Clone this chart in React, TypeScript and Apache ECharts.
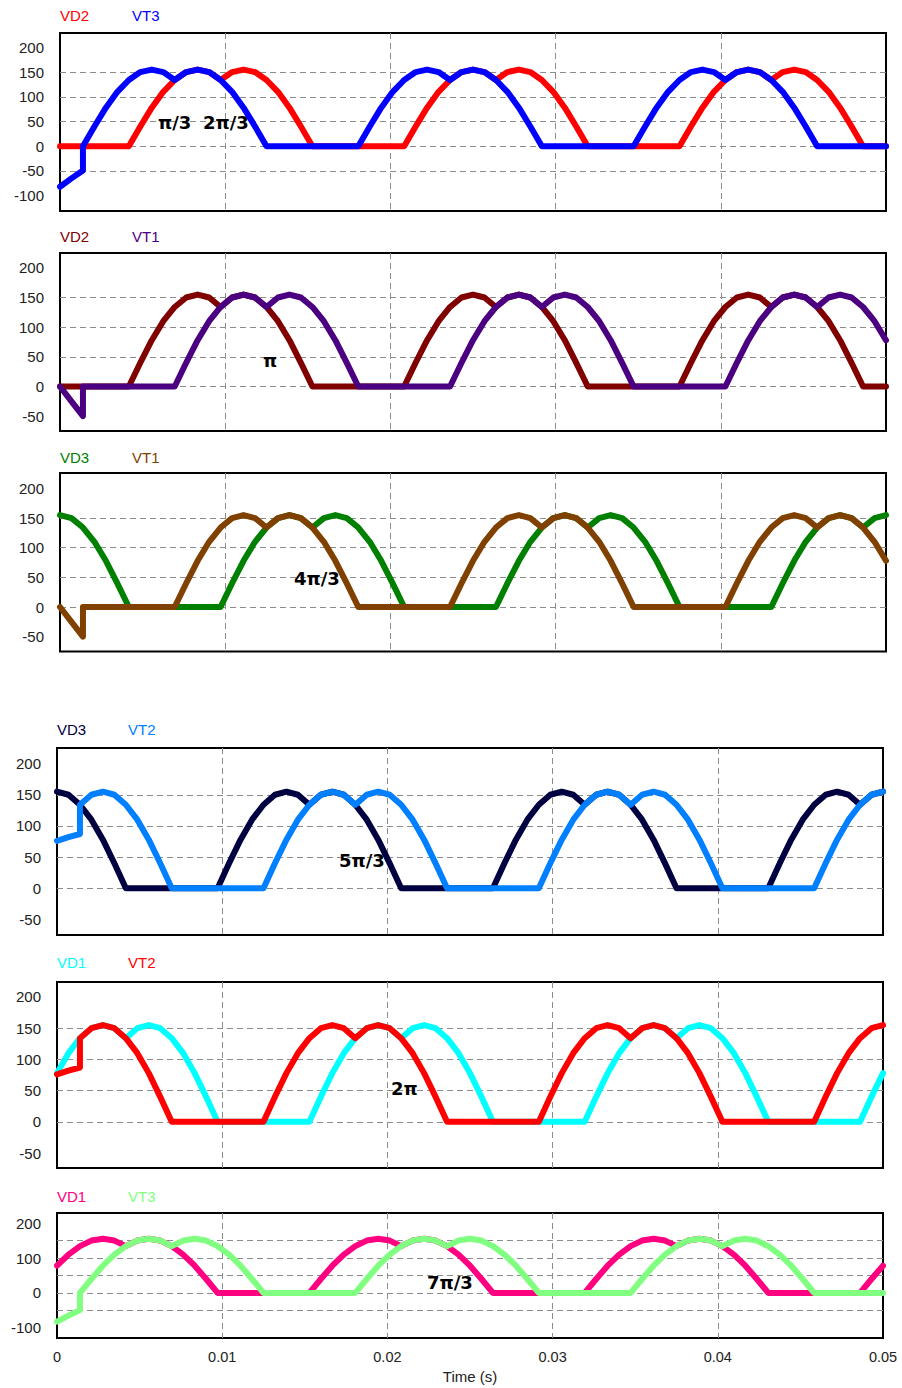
import { useEffect, useRef } from "react";
import * as echarts from "echarts";

// Time grid (ms): 15° steps of a 60 Hz supply, with the switching instant at 1.389 ms listed twice
const timeMs = [
  0, 0.694, 1.389, 1.389, 2.083, 2.778, 3.472, 4.167, 4.861, 5.556, 6.25, 6.944, 7.639, 8.333, 9.028, 9.722, 10.417, 11.111, 11.806, 12.5, 13.194, 13.889, 14.583, 15.278, 15.972,
  16.667, 17.361, 18.056, 18.75, 19.444, 20.139, 20.833, 21.528, 22.222, 22.917, 23.611, 24.306, 25, 25.694, 26.389, 27.083, 27.778, 28.472, 29.167, 29.861, 30.556, 31.25, 31.944, 32.639,
  33.333, 34.028, 34.722, 35.417, 36.111, 36.806, 37.5, 38.194, 38.889, 39.583, 40.278, 40.972, 41.667, 42.361, 43.056, 43.75, 44.444, 45.139, 45.833, 46.528, 47.222, 47.917, 48.611, 49.306, 50,
];

const vd2 = [
  0, 0, 0, 0, 0, 0, 0, 0, 40, 78, 110, 134, 150, 155, 150, 134, 150, 155, 150, 134, 110, 78, 40, 0, 0,
  0, 0, 0, 0, 0, 0, 0, 40, 78, 110, 134, 150, 155, 150, 134, 150, 155, 150, 134, 110, 78, 40, 0, 0,
  0, 0, 0, 0, 0, 0, 0, 40, 78, 110, 134, 150, 155, 150, 134, 150, 155, 150, 134, 110, 78, 40, 0, 0, 0,
];

const vt3 = [
  -82, -65, -49, 0, 40, 78, 110, 134, 150, 155, 150, 134, 150, 155, 150, 134, 110, 78, 40, 0, 0, 0, 0, 0, 0,
  0, 0, 0, 40, 78, 110, 134, 150, 155, 150, 134, 150, 155, 150, 134, 110, 78, 40, 0, 0, 0, 0, 0, 0,
  0, 0, 0, 40, 78, 110, 134, 150, 155, 150, 134, 150, 155, 150, 134, 110, 78, 40, 0, 0, 0, 0, 0, 0, 0,
];

const vt1 = [
  0, -25, -50, 0, 0, 0, 0, 0, 0, 0, 0, 0, 40, 78, 110, 134, 150, 155, 150, 134, 150, 155, 150, 134, 110,
  78, 40, 0, 0, 0, 0, 0, 0, 0, 0, 0, 40, 78, 110, 134, 150, 155, 150, 134, 150, 155, 150, 134, 110,
  78, 40, 0, 0, 0, 0, 0, 0, 0, 0, 0, 40, 78, 110, 134, 150, 155, 150, 134, 150, 155, 150, 134, 110, 78,
];

const vd3 = [
  155, 150, 134, 134, 110, 78, 40, 0, 0, 0, 0, 0, 0, 0, 0, 0, 40, 78, 110, 134, 150, 155, 150, 134, 150,
  155, 150, 134, 110, 78, 40, 0, 0, 0, 0, 0, 0, 0, 0, 0, 40, 78, 110, 134, 150, 155, 150, 134, 150,
  155, 150, 134, 110, 78, 40, 0, 0, 0, 0, 0, 0, 0, 0, 0, 40, 78, 110, 134, 150, 155, 150, 134, 150, 155,
];

const vt2 = [
  76, 82, 87, 134, 150, 155, 150, 134, 110, 78, 40, 0, 0, 0, 0, 0, 0, 0, 0, 0, 40, 78, 110, 134, 150,
  155, 150, 134, 150, 155, 150, 134, 110, 78, 40, 0, 0, 0, 0, 0, 0, 0, 0, 0, 40, 78, 110, 134, 150,
  155, 150, 134, 150, 155, 150, 134, 110, 78, 40, 0, 0, 0, 0, 0, 0, 0, 0, 0, 40, 78, 110, 134, 150, 155,
];

const vd1 = [
  78, 110, 134, 134, 150, 155, 150, 134, 150, 155, 150, 134, 110, 78, 40, 0, 0, 0, 0, 0, 0, 0, 0, 0, 40,
  78, 110, 134, 150, 155, 150, 134, 150, 155, 150, 134, 110, 78, 40, 0, 0, 0, 0, 0, 0, 0, 0, 0, 40,
  78, 110, 134, 150, 155, 150, 134, 150, 155, 150, 134, 110, 78, 40, 0, 0, 0, 0, 0, 0, 0, 0, 0, 40, 78,
];

const panelNames = [
  ["VD2", "VT3"],
  ["VD2", "VT1"],
  ["VD3", "VT1"],
  ["VD3", "VT2"],
  ["VD1", "VT2"],
  ["VD1", "VT3"],
];
const panelData = [
  [vd2, vt3],
  [vd2, vt1],
  [vd3, vt1],
  [vd3, vt2],
  [vd1, vt2],
  [vd1, vt3],
];
const panelColors = [
  ["#ff0000", "#0000ff"],
  ["#800000", "#4b0082"],
  ["#008000", "#804000"],
  ["#000040", "#0080ff"],
  ["#00ffff", "#ff0000"],
  ["#ff0080", "#80ff80"],
];
const yRanges = [
  [-131, 229],
  [-75, 225],
  [-75, 226],
  [-75, 225],
  [-74, 224],
  [-129, 229],
];
const yGridValues = [
  [-100, -50, 0, 50, 100, 150, 200],
  [-50, 0, 50, 100, 150, 200],
  [-50, 0, 50, 100, 150, 200],
  [-50, 0, 50, 100, 150, 200],
  [-50, 0, 50, 100, 150, 200],
  [-100, -50, 0, 50, 100, 150, 200],
];
const yLabelValues = [
  [-100, -50, 0, 50, 100, 150, 200],
  [-50, 0, 50, 100, 150, 200],
  [-50, 0, 50, 100, 150, 200],
  [-50, 0, 50, 100, 150, 200],
  [-50, 0, 50, 100, 150, 200],
  [-100, 0, 100, 200],
];
const annotationTexts = ["π/3", "2π/3", "π", "4π/3", "5π/3", "2π", "7π/3"];
const xAxisTitle = "Time (s)";

// layout (pixels)
const gridBoxes = [
  { left: 60, top: 33, height: 178 },
  { left: 60, top: 253, height: 178 },
  { left: 60, top: 473, height: 178.5 },
  { left: 57, top: 748, height: 187 },
  { left: 57, top: 982, height: 186 },
  { left: 57, top: 1213, height: 125 },
];
const legendPos = [
  { a: 60, b: 132, y: 15 },
  { a: 60, b: 132, y: 236 },
  { a: 60, b: 132, y: 457 },
  { a: 57, b: 128, y: 729 },
  { a: 57, b: 128, y: 962 },
  { a: 57, b: 128, y: 1196 },
];
const annotationPos = [
  { x: 158, y: 122 },
  { x: 203, y: 122 },
  { x: 263, y: 360 },
  { x: 294, y: 578 },
  { x: 339, y: 860 },
  { x: 391, y: 1088 },
  { x: 427, y: 1282 },
];

const FONT = "'Liberation Sans', Arial, Helvetica, sans-serif";

export default function App() {
  const ref = useRef<HTMLDivElement>(null);

  useEffect(() => {
    if (!ref.current) return;
    const chart = echarts.init(ref.current, null, { renderer: "svg" });

    const grid: any[] = [];
    const xAxis: any[] = [];
    const yAxis: any[] = [];
    const series: any[] = [];
    const graphic: any[] = [];

    const dashed = { color: "#8c8c8c", width: 1, type: [6, 4] };

    gridBoxes.forEach((g, i) => {
      grid.push({
        left: g.left,
        top: g.top,
        width: 826,
        height: g.height,
        show: true,
        borderColor: "#000",
        borderWidth: 2,
        backgroundColor: "transparent",
        containLabel: false,
      });
      xAxis.push({
        gridIndex: i,
        type: "value",
        min: 0,
        max: 0.05,
        interval: 0.01,
        axisLine: { show: false },
        axisTick: { show: false },
        axisLabel: {
          show: i === 5,
          margin: 11,
          fontSize: 14.5,
          fontFamily: FONT,
          color: "#222",
          formatter: (v: number) => String(+v.toFixed(2)),
        },
        splitLine: { show: true, showMinLine: false, showMaxLine: false, lineStyle: dashed },
      });
      yAxis.push({
        gridIndex: i,
        type: "value",
        min: yRanges[i][0],
        max: yRanges[i][1],
        axisLine: { show: false },
        axisTick: { show: false, customValues: yGridValues[i] },
        axisLabel: {
          customValues: yLabelValues[i],
          margin: 16,
          fontSize: 15,
          fontFamily: FONT,
          color: "#222",
        },
        splitLine: { show: true, showMinLine: false, showMaxLine: false, lineStyle: dashed },
      });
      panelData[i].forEach((vals, j) => {
        series.push({
          type: "line",
          name: panelNames[i][j],
          xAxisIndex: i,
          yAxisIndex: i,
          data: timeMs.map((t, k) => [t / 1000, vals[k]]),
          showSymbol: false,
          symbol: "none",
          clip: false,
          z: 3 + j,
          lineStyle: { width: 6, color: panelColors[i][j], join: "round", cap: "round" },
        });
      });
      const lp = legendPos[i];
      [lp.a, lp.b].forEach((x, j) => {
        graphic.push({
          type: "text",
          x,
          y: lp.y,
          style: {
            text: panelNames[i][j],
            fill: panelColors[i][j],
            font: `15px ${FONT}`,
            align: "left",
            verticalAlign: "middle",
            textAlign: "left",
            textVerticalAlign: "middle",
          },
        });
      });
    });

    annotationTexts.forEach((text, k) => {
      graphic.push({
        type: "text",
        x: annotationPos[k].x,
        y: annotationPos[k].y,
        z: 10,
        style: {
          text,
          fill: "#000",
          font: `bold 18px 'DejaVu Sans', sans-serif`,
          align: "left",
          verticalAlign: "middle",
          textAlign: "left",
          textVerticalAlign: "middle",
        },
      });
    });

    graphic.push({
      type: "text",
      x: 470,
      y: 1376,
      style: {
        text: xAxisTitle,
        fill: "#222",
        font: `15px ${FONT}`,
        align: "center",
        verticalAlign: "middle",
        textAlign: "center",
        textVerticalAlign: "middle",
      },
    });

    chart.setOption({
      animation: false,
      backgroundColor: "#fff",
      grid,
      xAxis,
      yAxis,
      series,
      graphic,
    });

    return () => chart.dispose();
  }, []);

  return (
    <div
      ref={ref}
      style={{ position: "fixed", left: 0, top: 0, width: 902, height: 1388, background: "#fff" }}
    />
  );
}
